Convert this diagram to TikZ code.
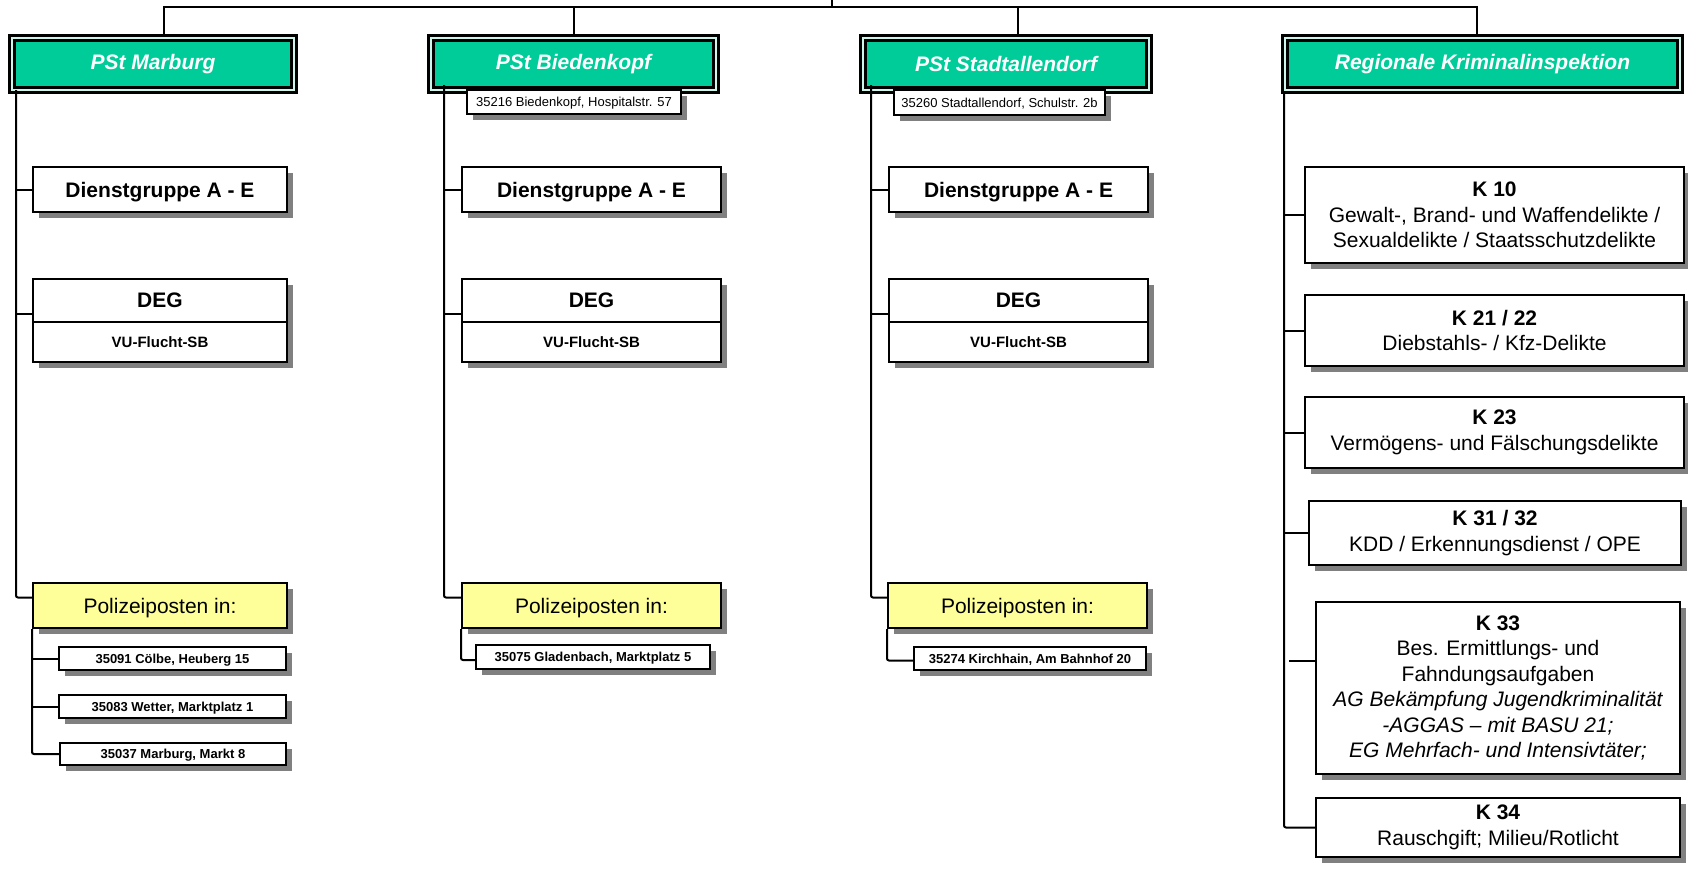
\documentclass[tikz,border=0pt]{standalone}
\usepackage{fontspec}
\setmainfont{Liberation Sans}
\usetikzlibrary{shadows}
\definecolor{pstgreen}{RGB}{0,204,153}
\definecolor{ppyellow}{RGB}{255,255,153}
\definecolor{shadowgray}{RGB}{128,128,128}
\tikzset{
  conn/.style={line width=2pt, rounded corners=2pt},
  shad/.style={drop shadow={shadow xshift=6pt, shadow yshift=-6pt, fill=shadowgray, opacity=1}},
  wbox/.style={draw, line width=2pt, fill=white, inner sep=0pt, align=center, shad},
  gbox/.style={draw, line width=3pt, double=pstgreen!20!white, double distance=1.7pt, fill=pstgreen, text=white,
    font=\fontsize{21}{25}\selectfont\bfseries\itshape, inner sep=0pt, minimum height=52.3pt},
  dgbox/.style={wbox, text depth=0pt, font=\fontsize{21}{25}\selectfont\bfseries, minimum width=257pt},
  vubox/.style={wbox, text depth=0pt, font=\fontsize{15}{18}\selectfont\bfseries, minimum width=257pt},
  ybox/.style={wbox, text depth=0pt, fill=ppyellow, font=\fontsize{21}{25}\selectfont, minimum width=257pt, minimum height=45pt},
  abox/.style={wbox, text depth=0pt, font=\fontsize{13}{15}\selectfont\bfseries},
  hbox/.style={wbox, text depth=0pt, font=\fontsize{13}{15}\selectfont},
  kbox/.style={wbox, font=\fontsize{21}{25.5}\selectfont},
}
\begin{document}
\begin{tikzpicture}[x=1pt, y=-1pt]
\useasboundingbox (0,0) rectangle (1688,871);
\fill[white] (0,0) rectangle (1688,871);

% top connectors
\coordinate (top) at (832,0);
\coordinate (bus) at (832,7);

% green headers
\node[gbox, minimum width=282.3pt] (g1) at (153,64) {PSt Marburg};
\node[gbox, minimum width=285.3pt] (g2) at (573.5,64) {PSt Biedenkopf};
\node[gbox, minimum width=286.3pt] (g3) at (1006,64) {PSt Stadtallendorf};
\node[gbox, minimum width=395.3pt] (g4) at (1482.5,64) {Regionale Kriminalinspektion};

% header addresses
\node[hbox, minimum width=214pt, minimum height=24pt] (h2) at (574,102) {35216 Biedenkopf, Hospitalstr. 57};
\node[hbox, minimum width=211pt, minimum height=25pt] (h3) at (999.5,102.5) {35260 Stadtallendorf, Schulstr. 2b};

% column 1
\node[dgbox, minimum width=254pt, minimum height=45pt] (dg1) at (160,189.5) {Dienstgruppe A - E};
\node[dgbox, minimum width=254pt, minimum height=43pt] (deg1) at (160,300.5) {DEG};
\node[vubox, minimum width=254pt, minimum height=40pt] (vu1) at (160,342) {VU-Flucht-SB};
\node[ybox, minimum width=254pt] (pp1) at (160,605.5) {Polizeiposten in:};
\node[abox, minimum width=227pt, minimum height=23pt] (a11) at (172.5,658.5) {35091 Cölbe, Heuberg 15};
\node[abox, minimum width=227pt, minimum height=23pt] (a12) at (172.5,706.5) {35083 Wetter, Marktplatz 1};
\node[abox, minimum width=226pt, minimum height=22pt] (a13) at (173,754) {35037 Marburg, Markt 8};

% column 2
\node[dgbox, minimum width=259pt, minimum height=45pt] (dg2) at (591.5,189.5) {Dienstgruppe A - E};
\node[dgbox, minimum width=259pt, minimum height=43pt] (deg2) at (591.5,300.5) {DEG};
\node[vubox, minimum width=259pt, minimum height=40pt] (vu2) at (591.5,342) {VU-Flucht-SB};
\node[ybox, minimum width=259pt] (pp2) at (591.5,605.5) {Polizeiposten in:};
\node[abox, minimum width=234pt, minimum height=24pt] (a21) at (593,657) {35075 Gladenbach, Marktplatz 5};

% column 3
\node[dgbox, minimum width=259pt, minimum height=45pt] (dg3) at (1018.5,189.5) {Dienstgruppe A - E};
\node[dgbox, minimum width=259pt, minimum height=43pt] (deg3) at (1018.5,300.5) {DEG};
\node[vubox, minimum width=259pt, minimum height=40pt] (vu3) at (1018.5,342) {VU-Flucht-SB};
\node[ybox, minimum width=259pt] (pp3) at (1017.5,605.5) {Polizeiposten in:};
\node[abox, minimum width=232pt, minimum height=23pt] (a31) at (1030,658.5) {35274 Kirchhain, Am Bahnhof 20};

% column 4
\node[kbox, minimum width=379pt, minimum height=96pt] (k10) at (1494.5,215)
  {{\bfseries K 10}\\Gewalt-, Brand- und Waffendelikte /\\Sexualdelikte / Staatsschutzdelikte};
\node[kbox, minimum width=379pt, minimum height=71pt] (k21) at (1494.5,330.5)
  {{\bfseries K 21 / 22}\\Diebstahls- / Kfz-Delikte};
\node[kbox, minimum width=379pt, minimum height=71pt] (k23) at (1494.5,432.5)
  {{\bfseries K 23}\\Vermögens- und Fälschungsdelikte};
\node[kbox, minimum width=372pt, minimum height=64pt] (k31) at (1495,533)
  {{\bfseries K 31 / 32}\\KDD / Erkennungsdienst / OPE};
\node[kbox, minimum width=364pt, minimum height=172pt] (k33) at (1498,688)
  {{\bfseries K 33}\\Bes. Ermittlungs- und\\Fahndungsaufgaben\\\itshape AG Bekämpfung Jugendkriminalität\\\itshape -AGGAS – mit BASU 21;\\\itshape EG Mehrfach- und Intensivtäter;};
\node[kbox, minimum width=364pt, minimum height=59pt] (k34) at (1498,827.5)
  {{\bfseries K 34}\\Rauschgift; Milieu/Rotlicht};

% top bus
\draw[line width=2pt] (top) -- (bus);
\draw[line width=2pt] ([xshift=11pt]g1.north) |- (bus) -| ([xshift=-5.5pt]g4.north);
\draw[line width=2pt] (g2.north) -- (g2.north |- bus);
\draw[line width=2pt] ([xshift=12pt]g3.north) -- ([xshift=12pt]g3.north |- bus);

% trunks
\coordinate (t1) at (16,90);
\coordinate (t2) at (444,85);
\coordinate (t3) at (871,85);
\coordinate (t4) at (1284,94);

\coordinate (d1) at ([yshift=-13pt]deg1.west);
\coordinate (d2) at ([yshift=-13pt]deg2.west);
\coordinate (d3) at ([yshift=-13pt]deg3.west);
\coordinate (p1) at ([yshift=8pt]pp1.west);
\coordinate (p2) at ([yshift=8pt]pp2.west);
\coordinate (p3) at ([yshift=8pt]pp3.west);

\foreach \i in {1,2,3}{
  \draw[conn] (t\i) |- (p\i);
  \draw[conn] (t\i |- dg\i.west) -- (dg\i.west);
  \draw[conn] (t\i |- d\i) -- (d\i);
}

% sub trunks
\draw[conn] (pp1.south west) |- (a13.west);
\draw[conn] (pp1.south west |- a11.west) -- (a11.west);
\draw[conn] (pp1.south west |- a12.west) -- (a12.west);
\draw[conn] (pp2.south west) |- ([yshift=-3pt]a21.west);
\draw[conn] (pp3.south west) |- ([yshift=-2pt]a31.west);

% column 4 trunk
\coordinate (k33c) at ([yshift=27pt]k33.west);
\draw[conn] (t4) |- (k34.west);
\foreach \k in {k10,k21,k23,k31}{
  \draw[conn] (t4 |- \k.west) -- (\k.west);
}
\draw[conn] ([xshift=5pt]t4 |- k33c) -- (k33c);
\end{tikzpicture}
\end{document}
